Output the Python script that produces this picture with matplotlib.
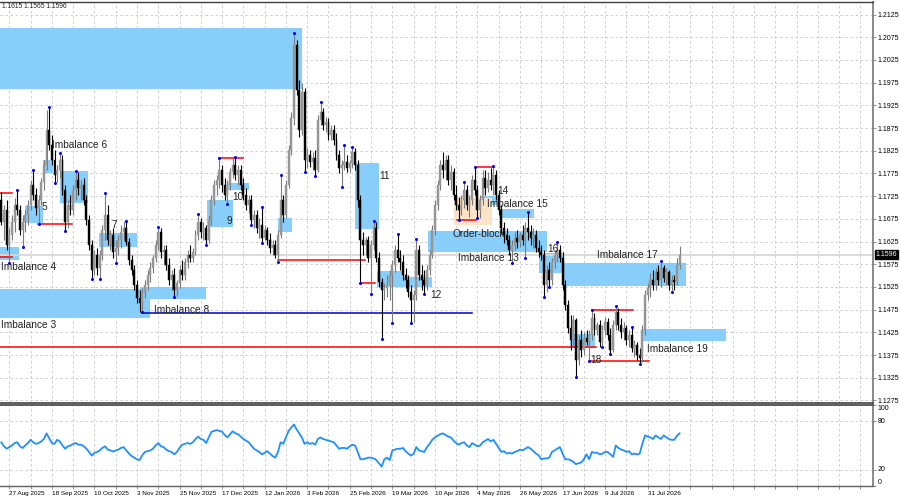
import matplotlib
matplotlib.use('Agg')
import matplotlib.pyplot as plt
import matplotlib.transforms as mtransforms
from matplotlib.patches import Rectangle
from matplotlib.ticker import FixedLocator, FixedFormatter

plt.rcParams['font.family'] = ['Liberation Sans', 'DejaVu Sans']

# daily EURUSD-like bars, prices in pips (price * 10000), open = previous close
first_open = 11717
closes = [
    11668, 11695, 11617, 11639, 11668, 11706, 11695, 11650, 11668, 11683,
    11706, 11750, 11728, 11699, 11717, 11756, 11794, 11871, 11838, 11805,
    11772, 11783, 11805, 11739, 11668, 11706, 11695, 11739, 11761, 11743,
    11750, 11717, 11672, 11617, 11562, 11595, 11567, 11595, 11650, 11683,
    11628, 11639, 11602, 11611, 11628, 11646, 11655, 11624, 11584, 11562,
    11529, 11501, 11490, 11514, 11529, 11551, 11567, 11589, 11617, 11646,
    11602, 11606, 11573, 11540, 11551, 11518, 11534, 11562, 11551, 11580,
    11595, 11589, 11602, 11639, 11668, 11646, 11655, 11628, 11672, 11717,
    11750, 11761, 11783, 11750, 11728, 11750, 11778, 11794, 11772, 11783,
    11750, 11728, 11706, 11717, 11672, 11683, 11655, 11661, 11633, 11650,
    11628, 11611, 11617, 11595, 11639, 11717, 11683, 11750, 11827, 11897,
    12058, 11959, 11871, 11954, 11805, 11816, 11800, 11809, 11783, 11893,
    11910, 11882, 11888, 11860, 11871, 11849, 11816, 11787, 11794, 11800,
    11787, 11798, 11822, 11794, 11717, 11628, 11617, 11628, 11589, 11617,
    11655, 11589, 11536, 11518, 11523, 11529, 11551, 11573, 11606, 11589,
    11580, 11551, 11540, 11514, 11496, 11507, 11606, 11551, 11540, 11529,
    11562, 11595, 11650, 11706, 11750, 11794, 11783, 11805, 11761, 11778,
    11728, 11706, 11695, 11717, 11739, 11706, 11717, 11761, 11739, 11695,
    11717, 11765, 11743, 11761, 11750, 11772, 11728, 11695, 11655, 11639,
    11628, 11606, 11617, 11633, 11624, 11639, 11628, 11655, 11646, 11633,
    11639, 11611, 11602, 11595, 11529, 11562, 11540, 11580, 11595, 11606,
    11589, 11529, 11485, 11435, 11408, 11452, 11364, 11408, 11386, 11413,
    11404, 11419, 11457, 11430, 11441, 11404, 11430, 11448, 11419, 11386,
    11441, 11470, 11441, 11426, 11435, 11408, 11419, 11391, 11397, 11375,
    11369, 11430, 11507, 11523, 11540, 11529, 11558, 11540, 11567, 11545,
    11558, 11529, 11540, 11536, 11573, 11596,
]
highs = [
    11734, 11706, 11717, 11655, 11683, 11721, 11739, 11706, 11683, 11695,
    11717, 11761, 11783, 11743, 11728, 11765, 11805, 11915, 11921, 11860,
    11827, 11794, 11820, 11816, 11750, 11717, 11728, 11750, 11780, 11778,
    11761, 11765, 11728, 11683, 11628, 11606, 11611, 11606, 11661, 11732,
    11706, 11650, 11655, 11628, 11639, 11661, 11670, 11670, 11633, 11595,
    11573, 11540, 11518, 11523, 11540, 11562, 11580, 11595, 11628, 11657,
    11655, 11617, 11617, 11589, 11562, 11567, 11540, 11573, 11584, 11589,
    11606, 11617, 11611, 11650, 11686, 11677, 11668, 11661, 11683, 11728,
    11761, 11772, 11809, 11794, 11765, 11761, 11787, 11811, 11811, 11794,
    11794, 11765, 11743, 11728, 11728, 11695, 11695, 11677, 11701, 11661,
    11657, 11644, 11628, 11628, 11650, 11772, 11728, 11761, 11838, 11910,
    12084, 12069, 11981, 11974, 11963, 11831, 11827, 11822, 11827, 11904,
    11932, 11919, 11899, 11897, 11882, 11882, 11864, 11827, 11805, 11838,
    11816, 11805, 11833, 11831, 11805, 11728, 11646, 11635, 11637, 11628,
    11670, 11668, 11602, 11545, 11534, 11551, 11562, 11584, 11617, 11642,
    11606, 11595, 11567, 11551, 11529, 11518, 11631, 11617, 11573, 11562,
    11573, 11606, 11661, 11717, 11761, 11805, 11822, 11816, 11816, 11794,
    11787, 11750, 11723, 11728, 11756, 11750, 11728, 11772, 11789, 11750,
    11728, 11783, 11783, 11778, 11787, 11791, 11783, 11739, 11706, 11668,
    11655, 11639, 11628, 11646, 11650, 11646, 11661, 11668, 11690, 11661,
    11655, 11650, 11628, 11617, 11606, 11573, 11580, 11589, 11606, 11624,
    11617, 11602, 11540, 11496, 11463, 11463, 11457, 11419, 11430, 11426,
    11430, 11430, 11474, 11468, 11448, 11452, 11441, 11459, 11457, 11435,
    11452, 11483, 11479, 11457, 11448, 11441, 11430, 11437, 11408, 11404,
    11391, 11441, 11518, 11534, 11556, 11562, 11567, 11573, 11582, 11573,
    11567, 11562, 11551, 11551, 11589, 11615,
]
lows = [
    11661, 11628, 11606, 11578, 11628, 11646, 11683, 11639, 11613, 11646,
    11661, 11695, 11717, 11683, 11664, 11706, 11739, 11783, 11827, 11794,
    11754, 11756, 11765, 11728, 11648, 11655, 11683, 11683, 11717, 11728,
    11717, 11706, 11661, 11606, 11543, 11551, 11551, 11543, 11584, 11628,
    11617, 11606, 11589, 11578, 11595, 11611, 11628, 11617, 11573, 11551,
    11518, 11490, 11470, 11470, 11501, 11518, 11536, 11556, 11580, 11606,
    11589, 11573, 11562, 11529, 11518, 11503, 11505, 11523, 11540, 11540,
    11567, 11580, 11580, 11595, 11628, 11633, 11628, 11617, 11622, 11661,
    11706, 11728, 11743, 11734, 11717, 11708, 11739, 11765, 11761, 11750,
    11739, 11717, 11695, 11688, 11661, 11655, 11644, 11633, 11622, 11628,
    11617, 11600, 11595, 11589, 11580, 11633, 11668, 11677, 11743, 11816,
    11882, 11948, 11855, 11860, 11778, 11787, 11789, 11783, 11769, 11778,
    11882, 11871, 11866, 11849, 11849, 11838, 11805, 11776, 11745, 11783,
    11778, 11778, 11787, 11783, 11701, 11534, 11595, 11595, 11580, 11509,
    11606, 11580, 11525, 11410, 11496, 11503, 11496, 11446, 11558, 11580,
    11562, 11540, 11523, 11503, 11446, 11448, 11496, 11540, 11518, 11509,
    11518, 11551, 11589, 11639, 11695, 11739, 11765, 11761, 11750, 11739,
    11717, 11695, 11672, 11683, 11699, 11695, 11679, 11706, 11728, 11677,
    11677, 11706, 11728, 11734, 11739, 11728, 11717, 11683, 11644, 11622,
    11617, 11595, 11578, 11606, 11611, 11613, 11617, 11589, 11628, 11617,
    11611, 11602, 11591, 11584, 11503, 11514, 11525, 11529, 11567, 11580,
    11580, 11518, 11474, 11424, 11386, 11397, 11327, 11353, 11371, 11375,
    11397, 11362, 11408, 11419, 11419, 11393, 11393, 11419, 11408, 11377,
    11382, 11430, 11430, 11413, 11408, 11397, 11393, 11382, 11371, 11364,
    11355, 11360, 11419, 11496, 11503, 11518, 11518, 11529, 11525, 11536,
    11529, 11518, 11514, 11518, 11529, 11565,
]
rsi = [
    54, 49, 46, 48, 50, 53, 54, 49, 47, 50,
    53, 57, 54, 52, 53, 55, 58, 65, 59, 53,
    52, 57, 55, 50, 46, 49, 50, 52, 53, 51,
    51, 49, 46, 42, 37.5, 41, 42, 44, 47, 49,
    45, 44, 42.5, 44, 45, 47, 48, 44, 40, 37,
    35, 33, 32, 38, 42, 43, 44, 46, 50, 53,
    49, 48, 45, 43, 42, 39, 42, 47, 51, 52,
    53, 52, 54, 58, 61, 58, 57, 53, 60, 67,
    68, 69, 68, 67, 63, 60, 64, 67.5, 65, 64,
    61, 58, 56, 54, 50, 46, 44, 42, 39, 41,
    43, 40, 37, 35, 42, 54, 52, 60, 68, 72,
    76, 70, 65, 60, 52, 54, 52, 53, 51, 58,
    60, 58, 57, 56, 55, 54, 50, 46, 47, 47,
    46, 49, 51, 50, 42, 33, 33, 34, 35, 35,
    34, 32, 28, 24, 33, 35, 32, 44, 45, 46,
    46, 47, 43, 40, 37.5, 40, 48, 44, 43, 42,
    48, 52, 57, 60, 62, 64, 65, 63, 61, 60,
    56, 53, 51, 53, 54, 50, 48, 53, 51, 49,
    50, 54, 56, 58, 55, 57, 52, 47, 42, 43,
    40, 41, 40, 42, 43, 45, 44, 46, 48, 46,
    43, 40, 38, 33, 34, 34, 35, 42, 44, 46,
    48, 40, 33, 33, 32, 30, 27, 28, 29, 33,
    39, 33, 42, 41, 41, 39, 40, 42, 42, 39,
    36, 50, 47, 45, 44, 42, 43, 39, 40, 39,
    40, 52, 62.5, 61, 60, 58, 62.5, 60, 58, 62.5,
    60, 58, 57, 57, 62, 65,
]

date_labels = ['27 Aug 2025', '18 Sep 2025', '10 Oct 2025', '3 Nov 2025',
               '25 Nov 2025', '17 Dec 2025', '12 Jan 2026', '3 Feb 2026',
               '25 Feb 2026', '19 Mar 2026', '10 Apr 2026', '4 May 2026',
               '26 May 2026', '17 Jun 2026', '9 Jul 2026', '31 Jul 2026']
date_bars = [3, 19, 35, 51, 67, 83, 99, 115, 131, 147, 163, 179, 195, 211, 227, 243]

price_ticks = [1.2125, 1.2075, 1.2025, 1.1975, 1.1925, 1.1875, 1.1825, 1.1775,
               1.1725, 1.1675, 1.1625, 1.1575, 1.1525, 1.1475, 1.1425, 1.1375,
               1.1325, 1.1275]
last_price = 1.1596

# fractal markers (bar, pips)
fractals = [(3, 11578), (6, 11739), (8, 11613), (12, 11783), (14, 11664), (18, 11921),
            (20, 11754), (22, 11820), (24, 11648), (28, 11780), (34, 11543), (37, 11543),
            (39, 11732), (43, 11578), (47, 11670), (53, 11470), (59, 11657), (65, 11503),
            (74, 11686), (77, 11617), (82, 11809), (85, 11708), (88, 11811), (94, 11661),
            (98, 11701), (98, 11622), (104, 11580), (105, 11772), (110, 12084), (114, 11778),
            (118, 11769), (120, 11932), (128, 11745), (129, 11838), (132, 11833), (135, 11534),
            (139, 11509), (140, 11670), (143, 11410), (147, 11446), (149, 11642), (154, 11446),
            (156, 11631), (159, 11509), (172, 11672), (174, 11756), (178, 11789), (179, 11677),
            (185, 11791), (192, 11578), (197, 11589), (198, 11690), (204, 11503), (206, 11525),
            (209, 11624), (216, 11327), (221, 11362), (222, 11474), (226, 11393), (229, 11377),
            (231, 11483), (237, 11437), (240, 11355), (248, 11582), (252, 11514)]

# zones: bar from, bar to, top pips, bottom pips
zones = [(-5, 112.9, 12095, 11961), (15.7, 19.4, 11805, 11776), (22.1, 32.6, 11780, 11710),
         (8.9, 15.7, 11703, 11666), (-5, 6.7, 11613, 11584), (36.7, 51.0, 11644, 11613),
         (-5, 55.9, 11520, 11457), (52.1, 77.0, 11525, 11498), (77.3, 87.1, 11717, 11657),
         (84.8, 93.1, 11754, 11739), (104.0, 109.3, 11677, 11646), (133.0, 142.0, 11798, 11653),
         (141.2, 151.0, 11560, 11525), (151.0, 161.9, 11547, 11525), (160.4, 205.2, 11648, 11602),
         (180.3, 187.5, 11725, 11706), (187.5, 200.3, 11697, 11677), (202.1, 211.2, 11600, 11556),
         (210.8, 257.4, 11578, 11527), (213.8, 223.2, 11421, 11391), (240.9, 272.4, 11432, 11406)]
order_zone = (170.0, 184.5, 11721, 11661)

# horizontal levels: bar from, bar to, pips, colour
levels = [(-5, 4.0, 11732, 'red'), (-5, 4.0, 11591, 'red'), (13.8, 26.6, 11664, 'red'),
          (81.8, 90.9, 11809, 'red'), (104.0, 136.7, 11584, 'red'), (135.2, 140.5, 11534, 'red'),
          (171.3, 178.5, 11672, 'red'), (178.5, 185.2, 11789, 'red'), (-5, 223.6, 11393, 'red'),
          (222.0, 237.5, 11474, 'red'), (221.3, 243.5, 11362, 'red'), (52.9, 177.0, 11468, 'navy')]

labels = [(19.1, 11838, 'Imbalance 6', 'left'), (15.3, 11701, '5', 'left'),
          (-0.2, 11569, 'Imbalance 4', 'left'), (41.6, 11661, '7', 'left'),
          (-0.2, 11441, 'Imbalance 3', 'left'), (57.4, 11474, 'Imbalance 8', 'left'),
          (84.8, 11670, '9', 'left'), (86.7, 11723, '10', 'left'),
          (142.0, 11769, '11', 'left'), (161.2, 11507, '12', 'left'),
          (169.8, 11642, 'Order-block', 'left'), (171.7, 11589, 'Imbalance 13', 'left'),
          (186.4, 11736, '14', 'left'), (182.6, 11708, 'Imbalance 15', 'left'),
          (205.2, 11609, '16', 'left'), (224.0, 11595, 'Imbalance 17', 'left'),
          (221.3, 11364, '18', 'left'), (242.7, 11388, 'Imbalance 19', 'left')]

P = 10000.0
n = len(closes)
opens = [first_open] + closes[:-1]
bars = list(range(n))

fig = plt.figure(figsize=(9, 5), dpi=100)
fig.patch.set_facecolor('white')
ax = fig.add_axes([0, 0.194, 0.97, 0.802])
ax_rsi = fig.add_axes([0, 0.028, 0.97, 0.162], sharex=ax)

grid_style = dict(color='#c8c8c8', linestyle=(0, (3, 3)), linewidth=0.6)

# zones behind everything
for b0, b1, top, bot in zones:
    ax.add_patch(Rectangle((b0, bot / P), b1 - b0, (top - bot) / P,
                           facecolor='#87cefa', edgecolor='none', zorder=1))
b0, b1, top, bot = order_zone
ax.add_patch(Rectangle((b0, bot / P), b1 - b0, (top - bot) / P,
                       facecolor='#fbe3c8', edgecolor='none', zorder=1.1))

ax.axhline(last_price, color='#d8d8d8', linewidth=1.3, zorder=1.5)

for b0, b1, p, col in levels:
    c = '#ff0000' if col == 'red' else '#0000cd'
    ax.plot([b0, b1], [p / P, p / P], color=c, linewidth=1.1, zorder=2)

# candles
up_col, dn_col = '#969696', '#000000'
cols = [up_col if c >= o else dn_col for o, c in zip(opens, closes)]
wick_cols = ['#7a7a7a' if c >= o else dn_col for o, c in zip(opens, closes)]
ax.vlines(bars, [l / P for l in lows], [h / P for h in highs], colors=wick_cols,
          linewidth=0.8, zorder=3)
bottoms = [min(o, c) / P for o, c in zip(opens, closes)]
heights = [max(abs(c - o), 1) / P for o, c in zip(opens, closes)]
ax.bar(bars, heights, bottom=bottoms, width=0.72, color=cols, edgecolor=cols,
       linewidth=0.3, zorder=3.5)

ax.plot([f[0] for f in fractals], [f[1] / P for f in fractals], 'o', ms=2.2,
        color='#0000ff', mec='none', zorder=4)

for b, p, txt, ha in labels:
    ax.text(b, p / P, txt, ha=ha, va='center', fontsize=7.3, color='#222222',
            zorder=6, clip_on=True)

ax.set_xlim(-0.49, 327.7)
ax.set_ylim(1.12694, 1.21526)
ax.yaxis.tick_right()
ax.set_yticks(price_ticks)
ax.set_yticklabels(['%.4f' % t for t in price_ticks])
ax.tick_params(axis='y', labelsize=5, length=2, width=0.6, pad=1.5,
               color='#808080', labelcolor='black')
ax.tick_params(axis='x', bottom=False, labelbottom=False)

grid_bars = list(range(3, 328, 8))
grid_text = [date_labels[date_bars.index(g)] if g in date_bars else '' for g in grid_bars]
ax.xaxis.set_major_locator(FixedLocator(grid_bars))
ax.xaxis.set_major_formatter(FixedFormatter(grid_text))
ax.grid(True, **grid_style)
ax.set_axisbelow(True)

ax.spines['left'].set_visible(False)
ax.spines['top'].set_color('#404040')
ax.spines['top'].set_linewidth(1.0)
ax.spines['right'].set_color('#808080')
ax.spines['right'].set_linewidth(1.3)
ax.spines['bottom'].set_color('#505050')
ax.spines['bottom'].set_linewidth(1.3)

# current price tag
trans = mtransforms.blended_transform_factory(ax.transAxes, ax.transData)
ax.text(1.003, last_price, '%.4f' % last_price, transform=trans, fontsize=5,
        color='white', ha='left', va='center', clip_on=False, zorder=10,
        bbox=dict(facecolor='black', edgecolor='black', pad=0.8))

fig.text(2 / 900, 1 - 7 / 500, '1.1615 1.1565 1.1596', fontsize=4.8,
         color='#222222', ha='left', va='center')

# RSI panel
ax_rsi.plot(bars, rsi, color='#1e90ff', linewidth=1.3, zorder=3)
ax_rsi.set_ylim(0, 100)
ax_rsi.yaxis.tick_right()
ax_rsi.set_yticks([0, 20, 80, 100])
ax_rsi.set_yticklabels(['0', '20', '80', '100'])
ax_rsi.tick_params(axis='y', labelsize=5, length=2, width=0.6, pad=1.5,
                   color='#808080', labelcolor='black')
for lab, va in zip(ax_rsi.get_yticklabels(), ['bottom', 'center', 'center', 'top']):
    lab.set_va(va)
ax_rsi.grid(True, **grid_style)
ax_rsi.tick_params(axis='x', bottom=True, labelbottom=True, labelsize=4.6,
                   length=2, width=0.6, pad=1.5, color='#808080')
for lab in ax_rsi.get_xticklabels():
    lab.set_ha('left')
ax_rsi.spines['left'].set_visible(False)
ax_rsi.spines['top'].set_color('#505050')
ax_rsi.spines['top'].set_linewidth(1.3)
ax_rsi.spines['right'].set_color('#808080')
ax_rsi.spines['right'].set_linewidth(1.3)
ax_rsi.spines['bottom'].set_color('#606060')
ax_rsi.spines['bottom'].set_linewidth(1.0)

fig.savefig('out.png', dpi=100)
